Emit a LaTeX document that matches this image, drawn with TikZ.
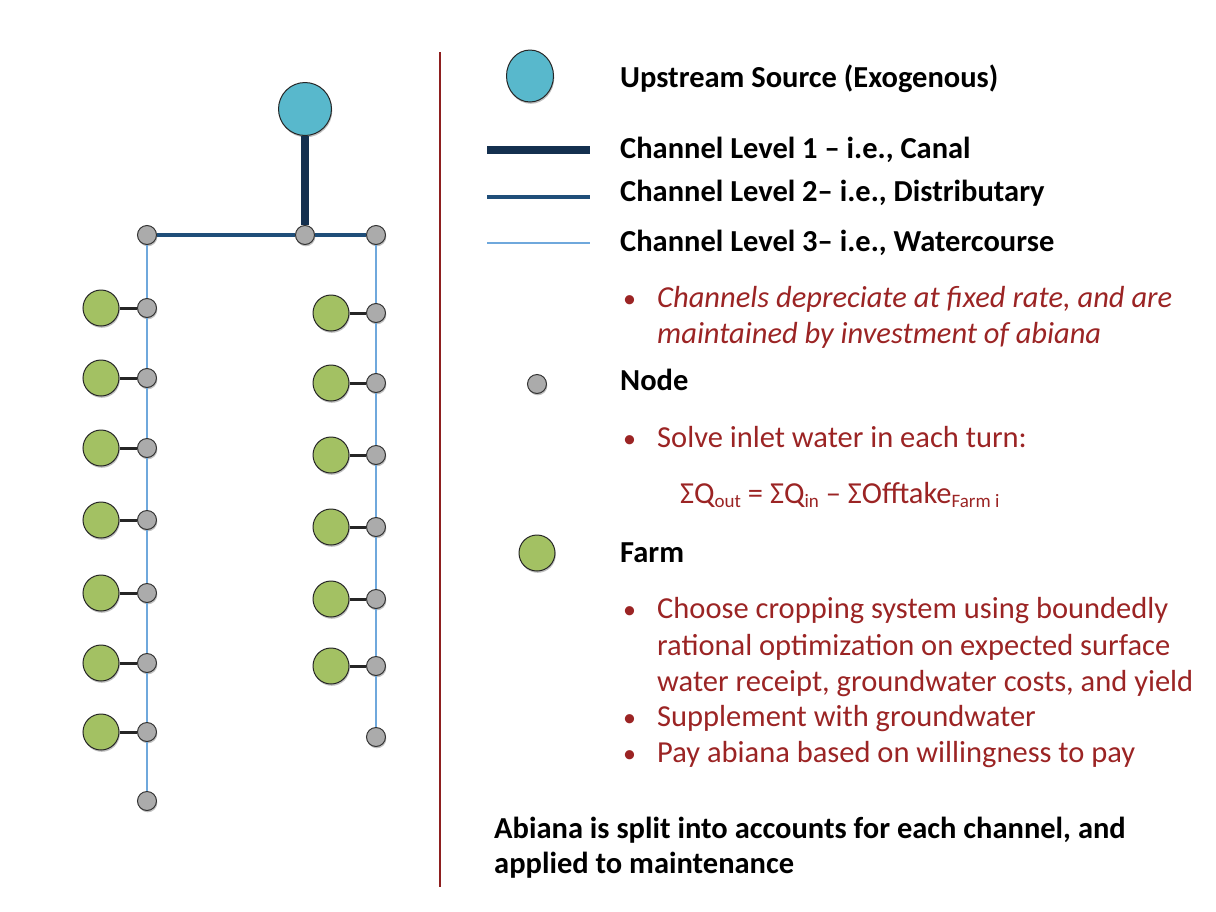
\documentclass[tikz,border=0pt]{standalone}
\usepackage{fontspec}
\setmainfont{Carlito}
\usetikzlibrary{shadows,shapes.geometric}

\definecolor{srcblue}{HTML}{58B8CC}
\definecolor{farmgreen}{HTML}{A3C163}
\definecolor{nodegray}{HTML}{ABABAB}
\definecolor{canalblue}{HTML}{14304F}
\definecolor{distblue}{HTML}{1F4E79}
\definecolor{wcblue}{HTML}{6FA8DC}
\definecolor{darkred}{HTML}{9B2424}
\definecolor{rulered}{HTML}{8E1F1F}

\newcommand\subtxt[1]{\raisebox{-0.3ex}{\fontsize{19}{22}\selectfont #1}}

\begin{document}
\begin{tikzpicture}[x=1pt,y=-1pt,
  shad/.style={drop shadow={shadow xshift=0.8pt,shadow yshift=-1.8pt,opacity=0.25,fill=black}},
  gnode/.style={circle,fill=nodegray,draw=black!80,line width=1pt,minimum size=19pt,inner sep=0pt,shad},
  farm/.style={circle,fill=farmgreen,draw=black!85,line width=1pt,minimum size=36pt,inner sep=0pt,shad},
  source/.style={circle,fill=srcblue,draw=black!85,line width=1pt,minimum size=53pt,inner sep=0pt,shad},
  canal/.style={line width=8pt,canalblue},
  dist/.style={line width=4.5pt,distblue},
  wc/.style={line width=2.5pt,wcblue},
  spur/.style={line width=3pt,black!85},
  lbl/.style={anchor=base west,inner sep=0pt,font=\fontsize{30.5}{36}\selectfont\bfseries},
  txt/.style={anchor=base west,inner sep=0pt,text=darkred,font=\fontsize{30.5}{36}\selectfont},
  itxt/.style={txt,font=\fontsize{30.5}{36}\selectfont\itshape},
  bul/.style={anchor=base west,inner sep=0pt,text=darkred,font=\fontsize{26}{30}\selectfont}
]
\useasboundingbox (0,0) rectangle (1216,911);

% ---------- network ----------
\node[source] (S) at (305,109) {};
\node[gnode] (M) at (305,235) {};
\node[gnode] (L0) at (147,235) {};
\node[gnode] (R0) at (376,235) {};

\foreach \y [count=\i] in {308,378,448,520,593,663,732,801}
  \node[gnode] (L\i) at (147,\y) {};
\foreach \y [count=\i] in {313,383,455,527,599,666,737}
  \node[gnode] (R\i) at (376,\y) {};
\foreach \y [count=\i] in {308,378,448,520,593,663,732}
  \node[farm] (LF\i) at (101,\y) {};
\foreach \y [count=\i] in {313,383,455,527,599,666}
  \node[farm] (RF\i) at (331,\y) {};

% channels
\draw[canal] (S) -- (M);
\draw[dist] (L0) -- (M);
\draw[dist] (M) -- (R0);
\draw[wc] (L0) -- (L1) -- (L2) -- (L3) -- (L4) -- (L5) -- (L6) -- (L7) -- (L8);
\draw[wc] (R0) -- (R1) -- (R2) -- (R3) -- (R4) -- (R5) -- (R6) -- (R7);
% farm offtakes
\foreach \i in {1,...,7} \draw[spur] (LF\i) -- (L\i);
\foreach \i in {1,...,6} \draw[spur] (RF\i) -- (R\i);

% separator
\coordinate (sepT) at (440,52);
\coordinate (sepB) at (440,887);
\draw[rulered,line width=2pt] (sepT) -- (sepB);

% ---------- legend ----------
\node[source,ellipse,minimum width=47pt,minimum height=52pt] (kS) at (530,76) {};
\node[lbl] (tS) at (620,87) {Upstream Source (Exogenous)};

\coordinate (k1a) at (487,150); \coordinate (k1b) at (590,150);
\draw[canal] (k1a) -- (k1b);
\node[lbl] (t1) at (620,158) {Channel Level 1 – i.e., Canal};

\coordinate (k2a) at (487,197); \coordinate (k2b) at (590,197);
\draw[dist] (k2a) -- (k2b);
\node[lbl] (t2) at (620,201) {Channel Level 2– i.e., Distributary};

\coordinate (k3a) at (487,243); \coordinate (k3b) at (590,243);
\draw[wc] (k3a) -- (k3b);
\node[lbl] (t3) at (620,251) {Channel Level 3– i.e., Watercourse};

\node[bul] (b1) at (623,307) {•};
\node[itxt] (c1) at (657,307) {Channels depreciate at fixed rate, and are};
\node[itxt] (c2) at (657,343) {maintained by investment of abiana};

\node[gnode] (kN) at (537,384) {};
\node[lbl] (tN) at (620,390) {Node};

\node[bul] (b2) at (623,447) {•};
\node[txt] (n1) at (657,447) {Solve inlet water in each turn:};
\node[txt] (eq) at (680,503) {ΣQ\subtxt{out} = ΣQ\subtxt{in} – ΣOfftake\subtxt{Farm i}};

\node[farm] (kF) at (537,553) {};
\node[lbl] (tF) at (620,562) {Farm};

\node[bul] (b3) at (623,618) {•};
\node[txt] (f1) at (657,618) {Choose cropping system using boundedly};
\node[txt] (f2) at (657,655) {rational optimization on expected surface};
\node[txt] (f3) at (657,691) {water receipt, groundwater costs, and yield};
\node[bul] (b4) at (623,726) {•};
\node[txt] (f4) at (657,726) {Supplement with groundwater};
\node[bul] (b5) at (623,762) {•};
\node[txt] (f5) at (657,762) {Pay abiana based on willingness to pay};

\node[lbl] (a1) at (494,838) {Abiana is split into accounts for each channel, and};
\node[lbl] (a2) at (494,873) {applied to maintenance};
\end{tikzpicture}
\end{document}
